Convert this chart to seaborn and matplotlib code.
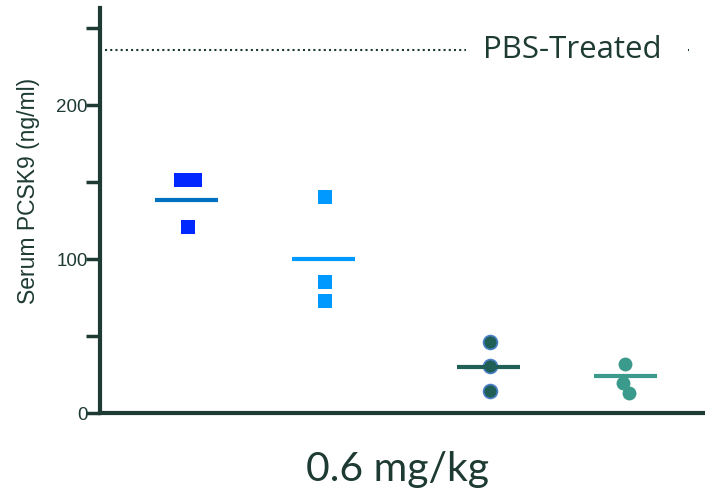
import matplotlib
matplotlib.use("Agg")
import matplotlib.pyplot as plt
import seaborn as sns
import pandas as pd
import numpy as np

# Data
groups = ["G1", "G2", "G3", "G4"]
g1_values = [151, 151, 121]
g2_values = [140, 85, 73]
g3_values = [46, 30.5, 14]
g4_values = [32, 19.5, 13]
group_means = [138, 100, 30, 24]
pbs_level = 236
y_ticks = [0, 50, 100, 150, 200, 250]
y_tick_labels = ["0", "", "100", "", "200", ""]

# style / layout
group_pos = [0, 1, 2.2, 3.2]
jitter = [[-0.05, 0.055, 0.0], [0, 0, 0], [0, 0, 0], [-0.01, -0.025, 0.015]]
marker_face = ["#0028FF", "#0099FF", "#1F5F55", "#3A9A8C"]
marker_edge = ["#0028FF", "#0099FF", "#4A7FC8", "#3A9A8C"]
markers = ["s", "s", "o", "o"]
mean_color = ["#0070C0", "#0099FF", "#1F5F55", "#3A9A8C"]
axis_color = "#1D3A33"

values = [g1_values, g2_values, g3_values, g4_values]
rows = []
for gi, (g, vals) in enumerate(zip(groups, values)):
    for vi, v in enumerate(vals):
        rows.append({"group": g, "x": group_pos[gi] + jitter[gi][vi], "value": v})
df = pd.DataFrame(rows)

sns.set_style("white")
plt.rcParams["font.family"] = ["Liberation Sans", "DejaVu Sans"]

fig = plt.figure(figsize=(7.05, 4.93), dpi=100)
ax = fig.add_axes([100 / 705, 80 / 493, 605 / 705, 405 / 493])

for gi, g in enumerate(groups):
    sub = df[df["group"] == g]
    sns.scatterplot(data=sub, x="x", y="value", ax=ax, marker=markers[gi],
                    s=110 if markers[gi] == "s" else 100,
                    color=marker_face[gi], edgecolor=marker_edge[gi],
                    linewidth=1.2 if gi == 2 else 0, zorder=3, legend=False)
    ax.hlines(group_means[gi], group_pos[gi] - 0.24, group_pos[gi] + 0.22,
              color=mean_color[gi], linewidth=3, zorder=4)

# PBS reference line
ax.hlines(pbs_level, -0.6, 2.03, color=axis_color, linestyle=(0, (1, 1.5)), linewidth=1.5)
ax.text(2.15, pbs_level, "PBS-Treated", fontsize=22.5, color=axis_color,
        va="center", ha="left", family=["Open Sans", "DejaVu Sans"])
ax.hlines(pbs_level, 3.645, 3.655, color=axis_color, linewidth=1.5)

ax.set_xlim(-0.64, 3.77)
ax.set_ylim(0, 263)
ax.set_yticks(y_ticks)
ax.set_yticklabels(y_tick_labels, fontsize=13.5, color=axis_color)
ax.set_xticks([])
ax.set_xlabel("")
ax.set_ylabel("Serum PCSK9 (ng/ml)", fontsize=16.5, color=axis_color)
ax.yaxis.set_label_coords(-0.099, 0.548)
ax.tick_params(axis="y", left=True, direction="out", length=10, width=2.5,
               color=axis_color, pad=-1)
for side in ["top", "right"]:
    ax.spines[side].set_visible(False)
for side in ["left", "bottom"]:
    ax.spines[side].set_color(axis_color)
    ax.spines[side].set_linewidth(3)

fig.text(397 / 705, 1 - 470 / 493, "0.6 mg/kg", fontsize=29.5, color=axis_color,
         ha="center", va="center", family=["Lato", "DejaVu Sans"])

fig.savefig("out.png", dpi=100)
